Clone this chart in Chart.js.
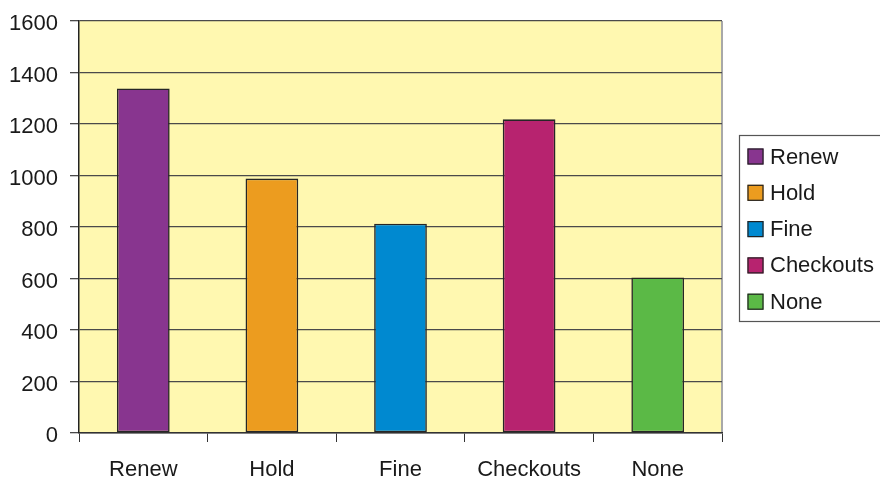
<!DOCTYPE html>
<html>
<head>
<meta charset="utf-8">
<script src="https://cdn.jsdelivr.net/npm/chart.js@4"></script>
<style>
  html, body { margin: 0; padding: 0; background: #ffffff; }
  #wrap { width: 880px; height: 481px; position: relative; }
</style>
</head>
<body>
<div id="wrap"><canvas id="c" width="880" height="481"></canvas></div>
<script>
const categories = ["Renew", "Hold", "Fine", "Checkouts", "None"];
const values = [1338, 988, 813, 1218, 604];
const barColors = ["#88358F", "#EC9C1F", "#0089D0", "#B7236F", "#5BB946"];
const yTicks = [0, 200, 400, 600, 800, 1000, 1200, 1400, 1600];

const FONT = "'Liberation Sans', Arial, sans-serif";

const plotBg = {
  id: 'plotBg',
  beforeDraw(chart) {
    const { ctx, chartArea: a } = chart;
    ctx.save();
    ctx.fillStyle = '#FFF8B0';
    ctx.fillRect(a.left, a.top, a.right - a.left, a.bottom - a.top);
    ctx.strokeStyle = '#A8A8A8';
    ctx.lineWidth = 2;
    ctx.beginPath();
    ctx.moveTo(a.right, a.top);
    ctx.lineTo(a.right, a.bottom);
    ctx.stroke();
    ctx.restore();
  }
};

const customLegend = {
  id: 'customLegend',
  afterDraw(chart) {
    const { ctx } = chart;
    ctx.save();
    const left = 739, top = 135, bottom = 321;
    ctx.strokeStyle = '#555555';
    ctx.lineWidth = 1.2;
    ctx.strokeRect(left + 0.5, top + 0.5, 880 - left + 10, bottom - top);
    ctx.font = "22px " + FONT;
    ctx.textBaseline = 'middle';
    ctx.textAlign = 'left';
    const y0 = 156.5, dy = 36.3;
    categories.forEach((name, i) => {
      const y = y0 + i * dy;
      ctx.fillStyle = barColors[i];
      ctx.fillRect(747.5, y - 8, 16, 16);
      ctx.strokeStyle = '#222';
      ctx.lineWidth = 1.2;
      ctx.strokeRect(748, y - 7.5, 15, 15);
      ctx.fillStyle = '#1a1a1a';
      ctx.fillText(name, 770, y + 1);
    });
    ctx.restore();
  }
};

new Chart(document.getElementById('c'), {
  type: 'bar',
  data: {
    labels: categories,
    datasets: [{
      label: 'Count',
      data: values,
      backgroundColor: barColors,
      borderColor: '#262626',
      borderWidth: 1.6,
      borderSkipped: false,
      categoryPercentage: 1.0,
      barPercentage: 0.41
    }]
  },
  options: {
    responsive: false,
    animation: false,
    devicePixelRatio: 1,
    layout: { padding: { top: 21, right: 158, left: 0, bottom: 0 } },
    plugins: {
      legend: { display: false },
      tooltip: { enabled: false }
    },
    scales: {
      x: {
        offset: true,
        grid: {
          offset: true,
          drawOnChartArea: false,
          drawTicks: true,
          tickLength: 9,
          color: '#333333',
          lineWidth: 1
        },
        border: { display: true, color: '#333333', width: 1.5 },
        ticks: {
          color: '#1a1a1a',
          font: { family: FONT, size: 22 },
          padding: 15,
          maxRotation: 0
        },
        afterFit(scale) { scale.height = 48; scale.paddingLeft = 0; scale.paddingRight = 0; }
      },
      y: {
        min: 0,
        max: 1600,
        afterBuildTicks(scale) { scale.ticks = yTicks.map(v => ({ value: v })); },
        grid: {
          color: '#4a4a4a',
          lineWidth: 1.3,
          tickLength: 9,
          drawTicks: true
        },
        border: { display: true, color: '#222222', width: 1.5 },
        ticks: {
          color: '#1a1a1a',
          font: { family: FONT, size: 22 },
          padding: 12,
          labelOffset: 3,
          callback: (v) => String(v)
        },
        afterFit(scale) { scale.width = 79; scale.paddingTop = 0; scale.paddingBottom = 0; }
      }
    }
  },
  plugins: [plotBg, customLegend]
});
</script>
</body>
</html>
